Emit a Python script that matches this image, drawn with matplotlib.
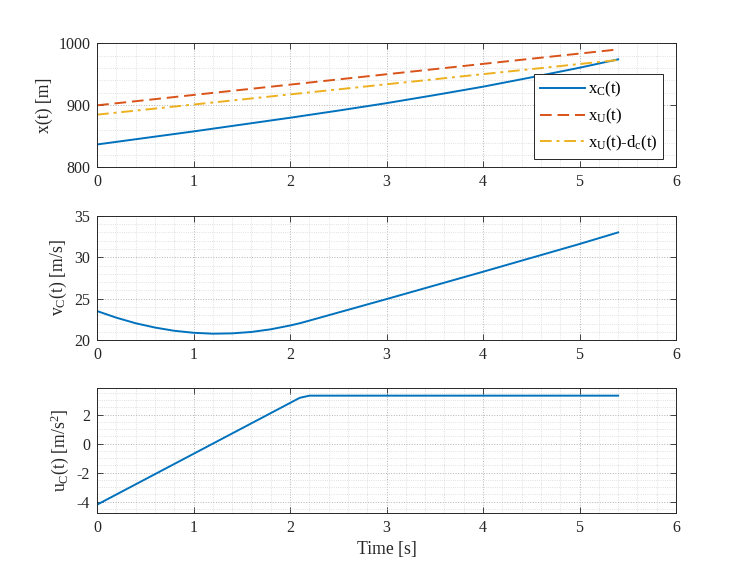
import numpy as np
import matplotlib.pyplot as plt
from matplotlib.ticker import MultipleLocator

# values
t_pos = [0, 0.5, 1, 1.5, 2, 2.5, 3, 3.5, 4, 4.5, 5, 5.4]
x_C = [837, 847.5, 858, 869, 880, 891.5, 903.5, 916.5, 930, 945, 960.5, 974]
x_U = [900, 908.3, 916.7, 925, 933.3, 941.7, 950, 958.3, 966.7, 975, 983.3, 990]
x_Ud = [885, 893.1, 901.3, 909.4, 917.6, 925.7, 933.9, 942, 950.2, 958.3, 966.5, 973]

t_vel = [0, 0.2, 0.4, 0.6, 0.8, 1.0, 1.2, 1.4, 1.6, 1.8, 2.0, 2.1, 2.2, 3, 4, 5, 5.4]
v_C = [23.5, 22.7, 22.03, 21.51, 21.12, 20.88, 20.77, 20.81, 20.98, 21.3, 21.76,
       22.03, 22.35, 24.95, 28.25, 31.6, 33.0]

t_acc = [0, 2.1, 2.2, 5.4]
u_C = [-4.2, 3.15, 3.3, 3.3]

c_blue = '#0072BD'
c_red = '#D95319'
c_yel = '#EDB120'
ink = '#262626'

plt.rcParams['font.family'] = ['Liberation Serif', 'DejaVu Serif']
plt.rcParams['mathtext.fontset'] = 'custom'
plt.rcParams['mathtext.rm'] = 'Liberation Serif'
plt.rcParams['mathtext.it'] = 'Liberation Serif'
plt.rcParams['mathtext.default'] = 'rm'
plt.rcParams['axes.unicode_minus'] = False


def style_axes(ax, ymaj, ymin):
    ax.set_xlim(0, 6)
    ax.xaxis.set_major_locator(MultipleLocator(1))
    ax.xaxis.set_minor_locator(MultipleLocator(0.2))
    ax.yaxis.set_major_locator(MultipleLocator(ymaj))
    ax.yaxis.set_minor_locator(MultipleLocator(ymin))
    ax.tick_params(which='major', direction='in', length=4, width=0.6,
                   top=True, right=True, colors=ink, labelsize=11.5, pad=5)
    ax.tick_params(which='minor', length=0, top=True, right=True)
    ax.grid(which='major', linestyle=':', color='#b4b4b4', linewidth=0.7)
    ax.grid(which='minor', linestyle=':', color='#d6d6d6', linewidth=0.6)
    ax.set_axisbelow(True)
    for s in ax.spines.values():
        s.set_color(ink)
        s.set_linewidth(0.7)


fig = plt.figure(figsize=(7.47, 5.76), dpi=100)
ax1 = fig.add_axes([0.13, 0.7093, 0.775, 0.2157])
ax2 = fig.add_axes([0.13, 0.4096, 0.775, 0.2157])
ax3 = fig.add_axes([0.13, 0.11, 0.775, 0.2157])

ax1.plot(t_pos, x_C, color=c_blue, lw=1.4, label=r'x$_{\rm C}$(t)')
ax1.plot(t_pos, x_U, color=c_red, lw=1.4, ls=(0, (6, 3)), label=r'x$_{\rm U}$(t)')
ax1.plot(t_pos, x_Ud, color=c_yel, lw=1.4, ls=(0, (6, 2.5, 1.5, 2.5)),
         label=r'x$_{\rm U}$(t)-d$_{\rm c}$(t)')
ax1.set_ylim(800, 1000)
style_axes(ax1, 100, 20)
ax1.set_ylabel('x(t) [m]', fontsize=12.7, color=ink)
leg = ax1.legend(loc='upper right', bbox_to_anchor=(0.978, 0.75), fontsize=12,
                 fancybox=False, framealpha=1, edgecolor=ink, handlelength=2.7,
                 handletextpad=0.2, borderpad=0.35, labelspacing=0.45,
                 borderaxespad=0)
leg.get_frame().set_linewidth(0.7)

ax2.plot(t_vel, v_C, color=c_blue, lw=1.4)
ax2.set_ylim(20, 35)
style_axes(ax2, 5, 1)
ax2.set_ylabel(r'v$_{\rm C}$(t) [m/s]', fontsize=12.7, color=ink)

ax3.plot(t_acc, u_C, color=c_blue, lw=1.4)
ax3.set_ylim(-4.75, 3.8)
style_axes(ax3, 2, 0.5)
ax3.set_ylabel(r'u$_{\rm C}$(t) [m/s$^2$]', fontsize=12.7, color=ink)
ax3.set_xlabel('Time [s]', fontsize=12.7, color=ink)

fig.savefig('out.png', dpi=100, facecolor='white')
